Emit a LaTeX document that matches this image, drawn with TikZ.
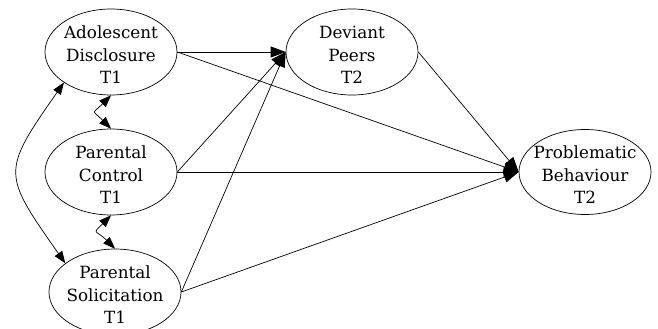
\documentclass[tikz,border=0pt]{standalone}
\usepackage{fontspec}
\setmainfont{DejaVu Serif}
\usetikzlibrary{shapes.geometric,arrows.meta}
\begin{document}
\begin{tikzpicture}[x=1pt,y=-1pt,
  blob/.style={draw, ellipse, line width=0.7pt, minimum width=132pt, minimum height=86pt, inner sep=0pt},
  txt/.style={align=center, inner sep=0pt, font=\fontsize{16.8}{22.5}\selectfont, yshift=-3pt},
  arr/.style={line width=0.7pt, -{Triangle[length=15pt,width=11pt]}},
  dbl/.style={line width=0.7pt, {Triangle[length=12pt,width=9pt]}-{Triangle[length=12pt,width=9pt]}}]
\useasboundingbox (0,0) rectangle (658,329);
\node[blob, label={[txt]center:Adolescent\\Disclosure\\T1}] (ad) at (111,52) {};
\node[blob, label={[txt]center:Parental\\Control\\T1}] (pc) at (111,172) {};
\node[blob, label={[txt]center:Parental\\Solicitation\\T1}] (ps) at (115,292) {};
\node[blob, label={[txt]center:Deviant\\Peers\\T2}] (dp) at (352,52) {};
\node[blob, minimum height=85pt, label={[txt]center:Problematic\\Behaviour\\T2}] (pb) at (585,172) {};
\draw[arr] (ad.east) -- (dp.west);
\draw[arr] (ad.east) -- (pb.west);
\draw[arr] (pc.east) -- (dp.west);
\draw[arr] (pc.east) -- (pb.west);
\draw[arr] (ps.east) -- (dp.west);
\draw[arr] (ps.east) -- (pb.west);
\draw[arr] (dp.east) -- (pb.west);
\draw[dbl] (ad.south) to[out=-135, in=135, looseness=2.1] (pc.north);
\draw[dbl] (pc.south) to[out=-135, in=135, looseness=2.1] (ps.north);
\draw[dbl] (ad.213) to[out=235, in=125, looseness=1.55] (ps.150);
\end{tikzpicture}
\end{document}
